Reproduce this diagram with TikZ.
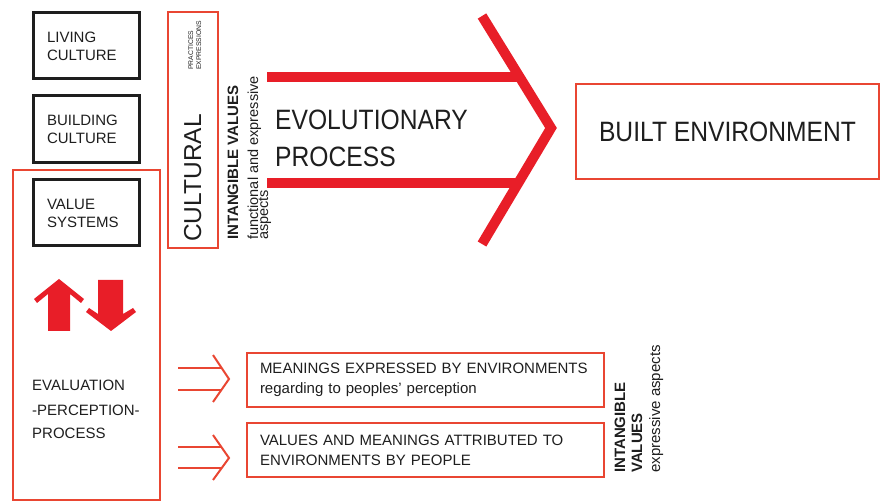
\documentclass[tikz,border=0pt]{standalone}
\usepackage{fontspec}
\setmainfont{Liberation Sans}
\newfontfamily\narrowfont[FakeStretch=0.88]{Liberation Sans}
\definecolor{bigred}{RGB}{232,30,40}
\definecolor{boxred}{RGB}{233,70,50}
\definecolor{ink}{RGB}{30,30,30}
\begin{document}
\begin{tikzpicture}[x=1pt,y=-1pt,
  blackbox/.style={draw=ink, line width=3pt, inner xsep=14pt, inner ysep=0pt, text width=78pt, minimum height=66pt, align=left, font=\fontsize{15}{18}\selectfont, text=ink},
  redbox/.style={draw=boxred, line width=2pt},
  rottext/.style={rotate=90, anchor=base west, inner sep=0pt, text=ink},
  plaintext/.style={anchor=base west, inner sep=0pt, text=ink},
  bigarrow/.style={draw=bigred, line width=10pt},
  thinarrow/.style={draw=boxred, line width=2pt},
  blockarrow/.style={fill=bigred}]
\useasboundingbox (0,0) rectangle (883,502);

% left black boxes
\node[blackbox] (living) at (86,46) {LIVING\\CULTURE};
\node[blackbox, minimum height=67pt] (building) at (86,129.5) {BUILDING\\CULTURE};
\node[blackbox] (values) at (86,213) {VALUE\\SYSTEMS};

% evaluation frame
\node[redbox, minimum width=147pt, minimum height=330pt, inner sep=0pt] (evalbox) at (86.5,335) {};

% cultural frame
\node[redbox, minimum width=50pt, minimum height=236pt, inner sep=0pt] (culturalbox) at (193,130) {};
\node[rottext, font=\fontsize{24.5}{24.5}\selectfont] (cultural) at (201,242) {CULTURAL};
\node[rottext, font=\fontsize{6.8}{6.8}\selectfont] (practices) at (193,70) {PRACTICES};
\node[rottext, font=\fontsize{6.8}{6.8}\selectfont] (expressions) at (201,70) {EXPRESSIONS};

% intangible values (left)
\node[rottext, font=\bfseries\fontsize{15}{15}\selectfont] (intl1) at (238,240) {INTANGIBLE VALUES};
\node[rottext, font=\fontsize{14.5}{14.5}\selectfont] (intl2) at (258,240) {functional and expressive};
\node[rottext, font=\fontsize{14.5}{14.5}\selectfont] (intl3) at (268,240) {aspects};

% big arrow
\coordinate (bt0) at (267,77);
\coordinate (bt1) at (520,77);
\coordinate (bb0) at (267,183);
\coordinate (bb1) at (519,183);
\coordinate (ctop) at (482,16);
\coordinate (ctip) at (551,128);
\coordinate (cbot) at (482,244);
\draw[bigarrow] (bt0) -- (bt1);
\draw[bigarrow] (bb0) -- (bb1);
\draw[bigarrow, line join=miter] (ctop) -- (ctip) -- (cbot);

\node[plaintext, font=\narrowfont\fontsize{28}{28}\selectfont] (evo1) at (275,130) {EVOLUTIONARY};
\node[plaintext, font=\narrowfont\fontsize{28}{28}\selectfont] (evo2) at (275,167) {PROCESS};

% built environment
\node[redbox, minimum width=303pt, minimum height=95pt, inner sep=0pt, text=ink, font=\narrowfont\fontsize{28}{28}\selectfont] (built) at (727.5,131.5) {BUILT ENVIRONMENT};

% up / down arrows
\fill[blockarrow] (48,331) -- (48,294) -- (37,303) -- (34,299) -- (59,279) -- (84,299) -- (81,303) -- (70,294) -- (70,331) -- cycle;
\fill[blockarrow] (98,280) -- (123,280) -- (123,314) -- (133,308) -- (136,312) -- (111,331) -- (86,312) -- (89,308) -- (98,314) -- cycle;

% evaluation text
\node[plaintext, font=\fontsize{15}{15}\selectfont] (eval1) at (32,390) {EVALUATION};
\node[plaintext, font=\fontsize{15}{15}\selectfont] (eval2) at (32,415) {-PERCEPTION-};
\node[plaintext, font=\fontsize{15}{15}\selectfont] (eval3) at (32,438) {PROCESS};

% meaning boxes
\node[redbox, text width=331pt, inner xsep=13pt, inner ysep=0pt, minimum height=54pt, align=left, text=ink, font=\fontsize{15}{20}\selectfont] (meanings) at (425.5,380) {MEANINGS EXPRESSED BY ENVIRONMENTS\\regarding to peoples' perception};
\node[redbox, text width=331pt, inner xsep=13pt, inner ysep=0pt, minimum height=54pt, align=left, text=ink, font=\fontsize{15}{20}\selectfont] (valuesbox) at (425.5,450) {VALUES AND MEANINGS ATTRIBUTED TO\\ENVIRONMENTS BY PEOPLE};

% thin double arrows
\coordinate (a1s1) at (178,368); \coordinate (a1e1) at (222,368);
\coordinate (a1s2) at (178,390); \coordinate (a1e2) at (222,390);
\draw[thinarrow] (a1s1) -- (a1e1);
\draw[thinarrow] (a1s2) -- (a1e2);
\draw[thinarrow, line join=miter] (213,355) -- (229,379) -- (213,402);
\coordinate (a2s1) at (178,447); \coordinate (a2e1) at (222,447);
\coordinate (a2s2) at (178,468); \coordinate (a2e2) at (222,468);
\draw[thinarrow] (a2s1) -- (a2e1);
\draw[thinarrow] (a2s2) -- (a2e2);
\draw[thinarrow, line join=miter] (213,435) -- (229,458) -- (213,480);

% intangible values (right)
\node[rottext, font=\bfseries\fontsize{15}{15}\selectfont] (intr1) at (625,473) {INTANGIBLE};
\node[rottext, font=\bfseries\fontsize{15}{15}\selectfont] (intr2) at (642,473) {VALUES};
\node[rottext, font=\fontsize{15}{15}\selectfont] (intr3) at (660,473) {expressive aspects};
\end{tikzpicture}
\end{document}
